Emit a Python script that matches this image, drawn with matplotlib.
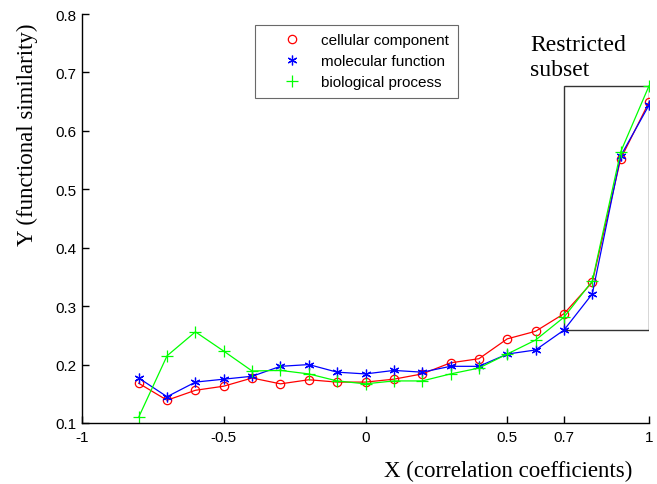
import matplotlib
matplotlib.use("Agg")
import matplotlib.pyplot as plt
from matplotlib.lines import Line2D
from matplotlib.patches import Rectangle

x = [-0.8, -0.7, -0.6, -0.5, -0.4, -0.3, -0.2, -0.1, 0.0, 0.1, 0.2, 0.3, 0.4, 0.5, 0.6, 0.7, 0.8, 0.9, 1.0]
cellular = [0.168, 0.139, 0.156, 0.163, 0.177, 0.167, 0.174, 0.170, 0.170, 0.175, 0.184, 0.203, 0.210, 0.244, 0.257, 0.287, 0.341, 0.552, 0.649]
molecular = [0.177, 0.145, 0.170, 0.175, 0.180, 0.197, 0.200, 0.187, 0.184, 0.190, 0.187, 0.197, 0.197, 0.218, 0.225, 0.259, 0.321, 0.557, 0.644]
biological = [0.110, 0.215, 0.256, 0.223, 0.189, 0.190, 0.184, 0.172, 0.167, 0.172, 0.172, 0.184, 0.194, 0.218, 0.242, 0.281, 0.343, 0.564, 0.677]

series_names = ["cellular component", "molecular function", "biological process"]
xticks = [-1, -0.5, 0, 0.5, 0.7, 1]
xticklabels = ["-1", "-0.5", "0", "0.5", "0.7", "1"]
yticks = [0.1, 0.2, 0.3, 0.4, 0.5, 0.6, 0.7, 0.8]
yticklabels = ["0.1", "0.2", "0.3", "0.4", "0.5", "0.6", "0.7", "0.8"]
box_x = [0.7, 1.0]
box_y = [0.259, 0.677]

sans = "Liberation Sans"
serif = "Liberation Serif"

fig = plt.figure(figsize=(6.57, 4.85), dpi=100)
ax = fig.add_axes([82/657, 61/485, 567/657, 409/485])

asterisk = (6, 2, 0)
ax.plot(x, cellular, color="#ff0000", lw=0.9, marker="o", mfc="none", mec="#ff0000", ms=6, mew=0.9)
ax.plot(x, molecular, color="#0000ff", lw=0.9, marker=asterisk, mec="#0000ff", ms=7, mew=0.9)
ax.plot(x, biological, color="#00ff00", lw=0.9, marker="+", mec="#00ff00", ms=8, mew=0.9)

ax.add_patch(Rectangle((box_x[0], box_y[0]), box_x[1] - box_x[0], box_y[1] - box_y[0],
                       fill=False, ec="#333333", lw=1.0, zorder=1))
ax.text(0.58, 0.766, "Restricted\nsubset", fontsize=17, family=serif, va="top", ha="left",
        linespacing=1.25, transform=ax.transData)

ax.set_xlim(-1, 1)
ax.set_ylim(0.1, 0.8)
ax.set_xticks(xticks)
ax.set_xticklabels(xticklabels, family=sans, fontsize=11)
ax.set_yticks(yticks)
ax.set_yticklabels(yticklabels, family=sans, fontsize=11)
ax.tick_params(direction="in", length=5, width=1)
ax.tick_params(axis="x", pad=5)
ax.tick_params(axis="y", pad=4)
for s in ["top", "right"]:
    ax.spines[s].set_visible(False)
for s in ["left", "bottom"]:
    ax.spines[s].set_linewidth(1.0)

ax.set_xlabel("X (correlation coefficients)", family=serif, fontsize=16.5)
ax.xaxis.set_label_coords(0.751, -0.09)
ax.set_ylabel("Y (functional similarity)", family=serif, fontsize=16.5)
ax.yaxis.set_label_coords(-0.077, 0.707)

handles = [
    Line2D([], [], ls="none", marker="o", mfc="none", mec="#ff0000", ms=6, mew=0.9),
    Line2D([], [], ls="none", marker=asterisk, mec="#0000ff", ms=7, mew=0.9),
    Line2D([], [], ls="none", marker="+", mec="#00ff00", ms=8, mew=0.9),
]
leg = ax.legend(handles, series_names, loc="upper left", bbox_to_anchor=(0.305, 0.973),
                prop={"family": sans, "size": 11}, frameon=True, fancybox=False,
                edgecolor="#444444", borderpad=0.55, labelspacing=0.45, handletextpad=0.0,
                handlelength=3.8, borderaxespad=0)
leg.get_frame().set_linewidth(0.8)

fig.savefig("out.png", dpi=100)
